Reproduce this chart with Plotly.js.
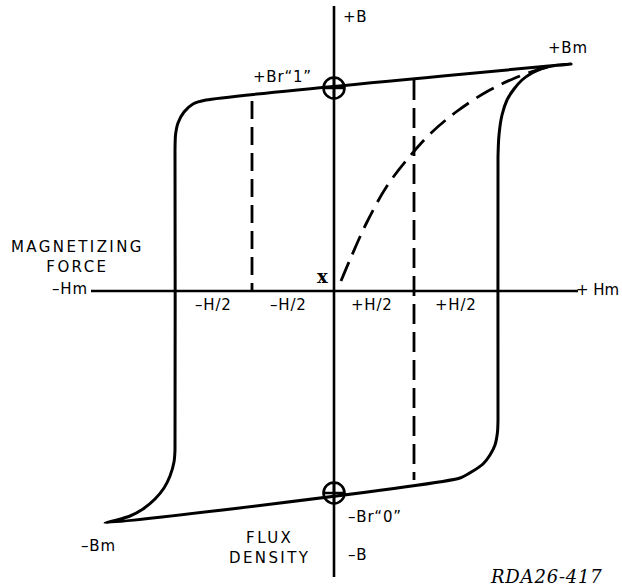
<!DOCTYPE html>
<html>
<head>
<meta charset="utf-8">
<script src="https://cdn.plot.ly/plotly-3.0.1.min.js"></script>
<style>
  html, body { margin: 0; padding: 0; background: #fff; }
  #chart { width: 622px; height: 586px; }
  text.annotation-text { letter-spacing: 0.8px; }
  text.annotation-text[data-unformatted="MAGNETIZING<br>FORCE"],
  text.annotation-text[data-unformatted="FLUX<br>DENSITY"] { letter-spacing: 2.4px; }
  text.annotation-text[data-unformatted="+ Hm"] { letter-spacing: 0px; }
</style>
</head>
<body>
<div id="chart"></div>
<script>
// Hysteresis loop (arbitrary units: H = magnetizing force, B = flux density)
const loopH = [237, -128, -141, -150, -156, -158.5, -159, -159, -160, -164, -170, -179, -191, -204, -217, -229,
               126, 139, 149, 156, 161, 163.5, 164, 164, 165, 168, 173, 180, 188, 198, 208, 221, 237];
const loopB = [227, 191, 187, 179, 168, 156, 141, -159, -171, -185, -197, -208, -218, -225, -229, -232,
               -187, -180, -173, -164, -154, -141, -129, 134, 156, 176, 191, 202, 211, 218, 222.5, 225.5, 227];

// Initial magnetization curve (dashed), from the demagnetized point x
const initH = [7, 18, 33, 53, 76, 96, 122, 154, 181, 206, 218];
const initB = [10, 36, 69, 105, 135, 157, 179, 200, 213, 222, 225];

// Half-drive field levels (dashed verticals)
const halfLeftH = [-82, -82];
const halfLeftB = [190, 1];
const halfRightH = [80, 80];
const halfRightB = [211, -189];

// Axes extents
const hAxisH = [-243, 244];
const hAxisB = [0, 0];
const bAxisH = [0, 0];
const bAxisB = [285, -286];

// Remanence points Br "1" and Br "0"
const remH = [0, 0];
const remB = [203, -202];

// Labels
const labelText = ["+B", "+Bm", "+Br“1”", "MAGNETIZING<br>FORCE", "–Hm",
                   "–H/2", "–H/2", "+H/2", "+H/2", "–Br“0”", "FLUX<br>DENSITY", "–B", "–Bm"];
const labelH = [21, 234, -52, -257, -264, -121, -46, 38, 122, 41, -65, 23, -236];
const labelB = [274, 243, 214, 34, 2, -14, -14, -14, -14, -226, -257, -264, -255];

const black = "#000";
const traces = [
  {x: hAxisH, y: hAxisB, mode: "lines", line: {color: black, width: 2.6}, hoverinfo: "skip"},
  {x: bAxisH, y: bAxisB, mode: "lines", line: {color: black, width: 2.6}, hoverinfo: "skip"},
  {x: loopH, y: loopB, mode: "lines", line: {color: black, width: 3, shape: "spline", smoothing: 0.6}, hoverinfo: "skip"},
  {x: initH, y: initB, mode: "lines", line: {color: black, width: 2.8, dash: "20px,9px", shape: "spline"}, hoverinfo: "skip"},
  {x: halfLeftH, y: halfLeftB, mode: "lines", line: {color: black, width: 2.8, dash: "18px,8px"}, hoverinfo: "skip"},
  {x: halfRightH, y: halfRightB, mode: "lines", line: {color: black, width: 2.8, dash: "20px,8px"}, hoverinfo: "skip"},
  {x: remH, y: remB, mode: "markers", marker: {symbol: "circle-cross-open", size: 21, color: black, line: {width: 2.6, color: black}}, hoverinfo: "skip"}
];

const font = {family: "DejaVu Sans, sans-serif", size: 15, color: black};
const annotations = labelText.map((t, i) => ({
  x: labelH[i], y: labelB[i], text: t, showarrow: false,
  xanchor: "center", yanchor: "middle", font: font
}));
annotations.push({x: 287, y: 1, text: "+ Hm", showarrow: false, xanchor: "right", yanchor: "middle",
  font: {family: "DejaVu Sans, sans-serif", size: 15, color: black}});
annotations.push({x: -11, y: 15, text: "<b>x</b>", showarrow: false, xanchor: "center", yanchor: "middle",
  font: {family: "DejaVu Serif, serif", size: 18, color: black}});
annotations.push({x: 212, y: -285, text: "<i>RDA26-417</i>", showarrow: false, xanchor: "center", yanchor: "middle",
  font: {family: "DejaVu Serif, serif", size: 18, color: black}});

const layout = {
  width: 622, height: 586,
  margin: {l: 0, r: 0, t: 0, b: 0},
  paper_bgcolor: "#fff", plot_bgcolor: "#fff",
  showlegend: false,
  xaxis: {range: [-334, 288], visible: false, fixedrange: true},
  yaxis: {range: [-295, 291], visible: false, fixedrange: true},
  annotations: annotations
};

Plotly.newPlot("chart", traces, layout, {displayModeBar: false, staticPlot: true});
</script>
</body>
</html>
